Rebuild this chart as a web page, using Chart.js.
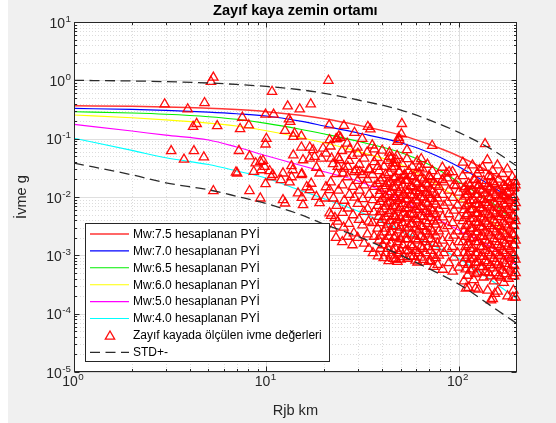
<!DOCTYPE html>
<html>
<head>
<meta charset="utf-8">
<script src="https://cdn.jsdelivr.net/npm/chart.js@4.4.1/dist/chart.umd.min.js"></script>
<style>
  html, body { margin: 0; padding: 0; background: #f0f0f0; }
  #wrap { width: 556px; height: 423px; position: relative; }
</style>
</head>
<body>
<div id="wrap"><canvas id="chart"></canvas></div>
<script>
// ---- Data ---------------------------------------------------------------
// Distances (Rjb, km) at which the predicted PGA curves are tabulated
const distKm  = [1, 2, 3, 5, 7, 10, 15, 20, 30, 50, 70, 100, 150, 200];
// Predicted peak ground acceleration (g) per magnitude
const pyiMw75 = [0.367, 0.358, 0.348, 0.333, 0.315, 0.29, 0.252, 0.22, 0.17, 0.115, 0.08, 0.05, 0.025, 0.013];
const pyiMw70 = [0.33, 0.318, 0.305, 0.285, 0.268, 0.245, 0.2, 0.165, 0.125, 0.085, 0.058, 0.033, 0.015, 0.0079];
const pyiMw65 = [0.29, 0.275, 0.262, 0.238, 0.215, 0.183, 0.145, 0.12, 0.09, 0.058, 0.036, 0.018, 0.0078, 0.0035];
const pyiMw60 = [0.255, 0.228, 0.21, 0.185, 0.165, 0.137, 0.105, 0.085, 0.06, 0.036, 0.0195, 0.0093, 0.0037, 0.0018];
const pyiMw50 = [0.176, 0.135, 0.115, 0.095, 0.072, 0.051, 0.035, 0.027, 0.0188, 0.0089, 0.0049, 0.0027, 0.00134, 0.00066];
const pyiMw40 = [0.102, 0.063, 0.047, 0.036, 0.028, 0.021, 0.013, 0.0093, 0.0057, 0.0027, 0.0016, 0.00088, 0.00036, 0.00018];
// Standard deviation envelope
const stdUpper = [1.0, 0.975, 0.95, 0.9, 0.85, 0.785, 0.69, 0.6, 0.46, 0.31, 0.21, 0.128, 0.064, 0.034];
const stdLower = [0.038, 0.024, 0.0175, 0.0133, 0.0103, 0.0077, 0.005, 0.0034, 0.0021, 0.001, 0.00059, 0.00032, 0.00013, 0.000068];

// Recorded PGA on weak rock sites: [Rjb km, PGA g]
const recordsNear = [
  [5.3,1.12],[5.15,0.95],[2.96,0.39],[3.9,0.32],[4.77,0.41],[9.9,0.26],[7.5,0.23],[4.34,0.18],[4.16,0.16],
  [5.55,0.165],[7.3,0.147],[8.1,0.17],[10,0.1],[9.9,0.08],[3.2,0.0615],[4.2,0.0615],[3.73,0.044],[4.73,0.048],
  [7.2,0.062],[8.17,0.05],[6.95,0.0265],[7.05,0.0255],[8.8,0.038],[9.3,0.0405],[8.6,0.0272],[9.8,0.033],
  [9.9,0.0167],[8.17,0.0127],[5.3,0.0127],[9.3,0.0095]
];
const recordsMid = [
  [21,0.99],[10.7,0.64],[12.9,0.36],[14.9,0.32],[17,0.39],[10.9,0.26],[13.1,0.215],[13.3,0.195],[12.5,0.137],
  [13.8,0.108],[15.2,0.11],[14,0.123],[21.2,0.17],[25.3,0.167],[28.7,0.127],[33.7,0.16],[34.7,0.145],[21.3,0.095],
  [23.8,0.11],[23.3,0.1],[24.3,0.104],[27.1,0.066],[29.9,0.056],[36.4,0.066],[43.6,0.058],[44.5,0.046],[47.3,0.043],
  [38,0.033],[34.4,0.029],[29.3,0.029],[30.5,0.027],[15.2,0.071],[16.8,0.071],[17.5,0.064],[19.7,0.068],[20.4,0.056],
  [17.8,0.049],[16.8,0.046],[19.3,0.046],[21.8,0.046],[24,0.043],[13.8,0.052],[15.5,0.043],[13.5,0.034],[13.7,0.029],
  [18.2,0.032],[18.9,0.0255],[15.2,0.024],[23.5,0.033],[25,0.0255],[26.5,0.033],[9.6,0.042],[9.4,0.029],[10.4,0.028],
  [12.2,0.0255],[10.8,0.024],
  [10.6,0.022],[11.9,0.0196],[13.5,0.022],[15.3,0.025],[13.2,0.018],[16.2,0.0148],[16.8,0.0132],[14.6,0.0116],
  [15.3,0.0097],[15.5,0.0073],[12.2,0.0089],[12.5,0.0078],[18.2,0.0101],[18.9,0.0079],[20.1,0.0095],[21.3,0.0132],
  [20.4,0.0148],[17.1,0.017],[22.7,0.0044],[21.3,0.0053]
];
const recordsFarUpper = [
  [50.6,0.18],[50.3,0.12],[49,0.095],[48.7,0.104],[48,0.089],[53.8,0.064],[72.7,0.076],[63.8,0.045],[62.2,0.032],
  [105,0.039],[137,0.081],[89,0.027],[86.6,0.0255],[128,0.029],[45.5,0.038],[46.5,0.033],[49.1,0.0272],[52.4,0.024],
  [121,0.0196],[181,0.0176],[150,0.0183],[127,0.0155],[110,0.0125],[43.7,0.049],[47,0.038],[70.7,0.022],[82,0.0196],
  [97,0.0155],[114,0.0155],[145,0.0146],[169,0.0102],[185,0.0155],[196,0.0184],[147,0.022],
  [109,0.00027],[122,0.00027],[147,0.00017],[154,0.00022],[191,0.00019]
];
const recordsFarCluster = [
  [21.5,0.074],[22.2,0.037],[21.6,0.018],[22.3,0.0095],[21.7,0.0048],[22.1,0.0029],
  [23.0,0.098],[23.6,0.047],[23.1,0.025],[23.7,0.013],[23.2,0.0071],[23.5,0.0038],[23.0,0.002],
  [24.7,0.062],[25.3,0.031],[24.8,0.016],[25.4,0.0087],[24.9,0.0054],[25.2,0.003],[24.8,0.0017],
  [26.3,0.083],[26.9,0.042],[26.4,0.022],[27.0,0.011],[26.5,0.0064],[26.8,0.0035],[26.4,0.0021],
  [28.0,0.051],[28.6,0.027],[28.1,0.015],[28.7,0.0098],[28.2,0.0049],[28.5,0.0024],[28.0,0.0015],
  [29.7,0.071],[30.4,0.036],[29.8,0.019],[30.5,0.013],[29.9,0.0077],[30.3,0.0041],[29.8,0.002],
  [31.5,0.1],[32.2,0.046],[31.6,0.024],[32.3,0.016],[31.7,0.0093],[32.1,0.0056],[31.6,0.0033],[32.2,0.0016],
  [33.4,0.058],[34.1,0.03],[33.5,0.02],[34.2,0.011],[33.6,0.0063],[34.0,0.0038],[33.5,0.0023],[34.1,0.0013],
  [35.5,0.077],[36.3,0.04],[35.6,0.024],[36.4,0.015],[35.7,0.0089],[36.2,0.0055],[35.6,0.0036],[36.3,0.0021],[35.8,0.0011],
  [37.7,0.047],[38.5,0.028],[37.8,0.017],[38.6,0.011],[37.9,0.0071],[38.4,0.0046],[37.8,0.0029],[38.5,0.0018],[38.0,0.00097],
  [40.0,0.063],[40.9,0.033],[40.1,0.021],[41.0,0.014],[40.2,0.0094],[40.8,0.0062],[40.1,0.0041],[40.9,0.0025],[40.3,0.0015],[40.7,0.0009],
  [42.5,0.042],[43.4,0.026],[42.6,0.017],[43.5,0.011],[42.7,0.0078],[43.3,0.0052],[42.6,0.0034],[43.4,0.0021],[42.8,0.0013],[43.2,0.0008],
  [45.1,0.031],[46.0,0.021],[45.2,0.015],[46.1,0.01],[45.3,0.0071],[45.9,0.0048],[45.2,0.0031],[46.0,0.002],[45.4,0.0012],[45.8,0.00088],
  [47.8,0.051],[48.8,0.027],[47.9,0.018],[48.9,0.012],[48.0,0.0087],[48.7,0.0061],[47.9,0.0041],[48.8,0.0027],[48.1,0.0017],[48.6,0.0011],[48.0,0.00078],
  [50.8,0.037],[51.8,0.023],[50.9,0.016],[51.9,0.011],[51.0,0.0077],[51.7,0.0053],[50.9,0.0036],[51.8,0.0023],[51.1,0.0015],[51.6,0.00094],
  [53.8,0.045],[54.9,0.028],[53.9,0.019],[55.0,0.013],[54.0,0.0092],[54.8,0.0065],[53.9,0.0045],[54.9,0.003],[54.1,0.0019],[54.7,0.0012],[54.0,0.00088],
  [57.3,0.033],[58.4,0.022],[57.4,0.015],[58.5,0.011],[57.5,0.0075],[58.3,0.0052],[57.4,0.0035],[58.4,0.0022],[57.6,0.0014],[58.2,0.00097],
  [60.8,0.041],[62.0,0.026],[60.9,0.017],[62.1,0.012],[61.0,0.0085],[61.9,0.006],[60.9,0.004],[62.0,0.0027],[61.1,0.0018],[61.8,0.0011],[61.0,0.00076],
  [64.7,0.03],[65.8,0.02],[64.8,0.014],[65.9,0.0098],[64.9,0.0069],[65.7,0.0046],[64.8,0.0031],[65.8,0.0019],[65.0,0.0013],[65.6,0.00084],
  [68.7,0.036],[70.0,0.023],[68.8,0.016],[70.1,0.011],[68.9,0.0077],[69.9,0.0052],[68.8,0.0035],[70.0,0.0023],[69.0,0.0014],[69.8,0.00078],
  [72.9,0.028],[74.2,0.018],[73.0,0.012],[74.3,0.0084],[73.1,0.0057],[74.1,0.0038],[73.0,0.0025],[74.2,0.0016],[73.2,0.001],[74.0,0.00064],
  [77.4,0.023],[78.8,0.015],[77.5,0.0095],[78.9,0.0062],[77.6,0.004],[78.7,0.0026],[77.5,0.0016],[78.8,0.001],[77.7,0.00069],
  [82.2,0.032],[83.7,0.018],[82.3,0.011],[83.8,0.0071],[82.4,0.0045],[83.6,0.0029],[82.3,0.0018],[83.7,0.0011],[82.5,0.00057],
  [87.3,0.021],[88.8,0.013],[87.4,0.0081],[88.9,0.0051],[87.5,0.0032],[88.7,0.002],[87.4,0.0013],[88.8,0.00074],
  [92.7,0.027],[94.3,0.016],[92.8,0.0097],[94.4,0.0059],[92.9,0.0036],[94.2,0.0022],[92.8,0.0014],[94.3,0.00092],[93.0,0.00053],
  [98.4,0.019],[100,0.012],[98.5,0.0072],[100.2,0.0044],[98.6,0.0026],[99.9,0.0017],[98.5,0.0011],[100.1,0.00062],
  [104.8,0.023],[106.5,0.014],[104.9,0.0091],[106.6,0.006],[105.0,0.0039],[106.4,0.0026],[104.9,0.0017],[106.5,0.0011],[105.1,0.00074],[106.3,0.00036],
  [110.8,0.029],[112.5,0.017],[110.9,0.011],[112.6,0.0075],[111.0,0.0051],[112.4,0.0034],[110.9,0.0023],[112.5,0.0015],[111.1,0.001],[112.3,0.00069],[111.0,0.00045],[112.4,0.00028],
  [117.8,0.035],[119.6,0.02],[117.9,0.013],[119.7,0.0089],[118.0,0.0062],[119.5,0.0043],[117.9,0.0029],[119.6,0.002],[118.1,0.0013],[119.4,0.00089],[118.0,0.00058],[119.5,0.00038],
  [124.8,0.025],[126.6,0.016],[124.9,0.011],[126.7,0.0074],[125.0,0.0052],[126.5,0.0036],[124.9,0.0025],[126.6,0.0017],[125.1,0.0011],[126.4,0.00076],[125.0,0.00051],[126.5,0.00026],
  [132.8,0.032],[134.6,0.019],[132.9,0.013],[134.7,0.0089],[133.0,0.0062],[134.5,0.0043],[132.9,0.003],[134.6,0.0021],[133.1,0.0014],[134.4,0.00095],[133.0,0.00064],[134.5,0.00042],
  [140.8,0.043],[143.0,0.023],[140.9,0.015],[143.1,0.01],[141.0,0.0072],[142.9,0.005],[140.9,0.0035],[143.0,0.0024],[141.1,0.0016],[142.8,0.0011],[141.0,0.00075],[142.9,0.0005],[141.2,0.00025],
  [149.8,0.028],[152.1,0.017],[149.9,0.012],[152.2,0.0081],[150.0,0.0057],[152.0,0.004],[149.9,0.0028],[152.1,0.0019],[150.1,0.0013],[151.9,0.00088],[150.0,0.0006],[152.0,0.00036],[150.2,0.00018],
  [158.8,0.035],[161.2,0.02],[158.9,0.013],[161.3,0.0094],[159.0,0.0066],[161.1,0.0046],[158.9,0.0032],[161.2,0.0022],[159.1,0.0015],[161.0,0.001],[159.0,0.00069],[161.1,0.00045],[159.2,0.00024],
  [168.8,0.025],[171.3,0.016],[168.9,0.011],[171.4,0.0077],[169.0,0.0054],[171.2,0.0038],[168.9,0.0026],[171.3,0.0018],[169.1,0.0012],[171.1,0.00082],[169.0,0.00055],[171.2,0.00034],
  [178.8,0.03],[181.4,0.018],[178.9,0.012],[181.5,0.0087],[179.0,0.0061],[181.3,0.0043],[178.9,0.003],[181.4,0.002],[179.1,0.0014],[181.2,0.00093],[179.0,0.00062],[181.3,0.0004],[179.2,0.0002],
  [189.8,0.022],[192.3,0.014],[189.9,0.0095],[192.4,0.0067],[190.0,0.0047],[192.2,0.0033],[189.9,0.0023],[192.3,0.0015],[190.1,0.001],[192.1,0.00069],[190.0,0.00044],[192.2,0.00025],
  [197,0.016],[197.5,0.0079],[196.8,0.0039],[197.3,0.0018],[196.9,0.00085],[197.4,0.0005],[197,0.00019]
];
// Densest record groups (around 40-80 km and 105-200 km)
const recordsCoreNear = [
  [39.1,0.019],[39.1,0.0128],[39.1,0.0083],[39.1,0.0056],[39.1,0.0036],[39.1,0.0022],[39.1,0.0013],
  [41.6,0.024],[41.6,0.0155],[41.6,0.0102],[41.6,0.0069],[41.6,0.0045],[41.6,0.0029],[41.6,0.0018],[41.6,0.0011],
  [44.2,0.018],[44.2,0.0122],[44.2,0.0084],[44.2,0.0058],[44.2,0.0039],[44.2,0.0025],[44.2,0.0016],[44.2,0.001],
  [46.9,0.022],[46.9,0.0145],[46.9,0.0098],[46.9,0.0067],[46.9,0.0046],[46.9,0.0032],[46.9,0.0021],[46.9,0.0013],[46.9,0.00085],
  [49.8,0.02],[49.8,0.0135],[49.8,0.0094],[49.8,0.0065],[49.8,0.0044],[49.8,0.003],[49.8,0.0019],[49.8,0.0012],[49.8,0.00085],
  [52.8,0.019],[52.8,0.0131],[52.8,0.0091],[52.8,0.0063],[52.8,0.0043],[52.8,0.0029],[52.8,0.0019],[52.8,0.0012],
  [56.2,0.023],[56.2,0.0155],[56.2,0.0107],[56.2,0.0073],[56.2,0.005],[56.2,0.0034],[56.2,0.0023],[56.2,0.0015],[56.2,0.00095],
  [59.6,0.018],[59.6,0.0127],[59.6,0.0088],[59.6,0.0061],[59.6,0.0042],[59.6,0.0029],[59.6,0.0019],[59.6,0.0012],[59.6,0.00082],
  [63.4,0.021],[63.4,0.0143],[63.4,0.0099],[63.4,0.0068],[63.4,0.0047],[63.4,0.0032],[63.4,0.0021],[63.4,0.0014],[63.4,0.00092],
  [67.3,0.017],[67.3,0.0118],[67.3,0.0081],[67.3,0.0056],[67.3,0.0039],[67.3,0.0026],[67.3,0.0017],[67.3,0.0011],
  [71.5,0.02],[71.5,0.0136],[71.5,0.0093],[71.5,0.0064],[71.5,0.0044],[71.5,0.0029],[71.5,0.0019],[71.5,0.0012],[71.5,0.0008],
  [75.9,0.016],[75.9,0.011],[75.9,0.0075],[75.9,0.0051],[75.9,0.0034],[75.9,0.0022],[75.9,0.0014],[75.9,0.0009]
];
const recordsCoreFar = [
  [108.5,0.015],[108.5,0.0102],[108.5,0.007],[108.5,0.0048],[108.5,0.0032],[108.5,0.0021],[108.5,0.0014],[108.5,0.0009],[108.5,0.00058],
  [115,0.0125],[115,0.0087],[115,0.006],[115,0.0042],[115,0.0029],[115,0.0019],[115,0.0013],[115,0.00085],[115,0.00055],
  [122,0.016],[122,0.011],[122,0.0076],[122,0.0053],[122,0.0037],[122,0.0025],[122,0.0017],[122,0.0011],[122,0.00074],[122,0.00048],
  [129.5,0.0135],[129.5,0.0093],[129.5,0.0065],[129.5,0.0045],[129.5,0.0031],[129.5,0.0021],[129.5,0.0014],[129.5,0.00095],[129.5,0.00063],
  [137,0.017],[137,0.0115],[137,0.008],[137,0.0055],[137,0.0038],[137,0.0026],[137,0.0018],[137,0.0012],[137,0.0008],[137,0.00052],
  [146,0.014],[146,0.0096],[146,0.0067],[146,0.0047],[146,0.0032],[146,0.0022],[146,0.0015],[146,0.001],[146,0.00068],[146,0.00044],
  [155,0.016],[155,0.0108],[155,0.0075],[155,0.0052],[155,0.0036],[155,0.0025],[155,0.0017],[155,0.0011],[155,0.00076],[155,0.0005],
  [165,0.0135],[165,0.0093],[165,0.0064],[165,0.0045],[165,0.0031],[165,0.0021],[165,0.0014],[165,0.00097],[165,0.00065],[165,0.00042],
  [174,0.015],[174,0.0104],[174,0.0072],[174,0.005],[174,0.0034],[174,0.0023],[174,0.0016],[174,0.0011],[174,0.00072],[174,0.00048],
  [185,0.0125],[185,0.0087],[185,0.006],[185,0.0041],[185,0.0028],[185,0.0019],[185,0.0013],[185,0.00088],[185,0.00058],
  [194,0.0145],[194,0.01],[194,0.0069],[194,0.0047],[194,0.0032],[194,0.0022],[194,0.0015],[194,0.001],[194,0.00066],[194,0.00044]
];

// Axis ticks and text
const xDecades = [1, 10, 100];
const xTickExponents = ['0', '1', '2'];
const yDecades = [1e-5, 1e-4, 1e-3, 1e-2, 1e-1, 1, 10];
const yTickExponents = ['-5', '-4', '-3', '-2', '-1', '0', '1'];
const chartTitle = 'Zayıf kaya zemin ortamı';
const xAxisTitle = 'Rjb km';
const yAxisTitle = 'İvme g';
const seriesLabels = [
  'Mw:7.5 hesaplanan PYİ', 'Mw:7.0 hesaplanan PYİ', 'Mw:6.5 hesaplanan PYİ',
  'Mw:6.0 hesaplanan PYİ', 'Mw:5.0 hesaplanan PYİ', 'Mw:4.0 hesaplanan PYİ',
  'Zayıf kayada ölçülen ivme değerleri', 'STD+-'
];

// ---- Styling ------------------------------------------------------------
const FONT = '"Liberation Sans", Arial, Helvetica, sans-serif';
const AXIS_COLOR = '#262626';
const DASH = [10, 5.5];

const toXY = (xs, ys) => xs.map((x, i) => ({ x: x, y: ys[i] }));
const pairsToXY = (pairs) => pairs.map(p => ({ x: p[0], y: p[1] }));

const curveDefs = [
  { values: pyiMw75, color: '#ff3535', width: 1.5 },
  { values: pyiMw70, color: '#0000ff', width: 1.1 },
  { values: pyiMw65, color: '#00ee00', width: 1.1 },
  { values: pyiMw60, color: '#ffff00', width: 1.1 },
  { values: pyiMw50, color: '#ff00ff', width: 1.1 },
  { values: pyiMw40, color: '#00ffff', width: 1.1 }
];

const datasets = curveDefs.map((c, i) => ({
  label: seriesLabels[i],
  data: toXY(distKm, c.values),
  showLine: true,
  borderColor: c.color,
  borderWidth: c.width,
  pointRadius: 0,
  cubicInterpolationMode: 'monotone',
  fill: false,
  order: 3
}));

const MARKER_COLOR = 'rgba(255,0,0,0.95)';
datasets.push({
  label: seriesLabels[6],
  data: pairsToXY(recordsNear.concat(recordsMid, recordsFarUpper, recordsFarCluster, recordsCoreNear, recordsCoreFar)),
  showLine: false,
  pointStyle: 'triangle',
  pointRadius: 5.4,
  pointBorderWidth: 1.3,
  pointBorderColor: MARKER_COLOR,
  pointBackgroundColor: 'rgba(0,0,0,0)',
  clip: false,
  order: 2
});

[stdUpper, stdLower].forEach(vals => datasets.push({
  label: seriesLabels[7],
  data: toXY(distKm, vals),
  showLine: true,
  borderColor: '#2b2b2b',
  borderWidth: 1.3,
  borderDash: DASH,
  pointRadius: 0,
  cubicInterpolationMode: 'monotone',
  fill: false,
  order: 1
}));

// ---- Axes, grid, titles and legend drawn around the chart area -----------
function drawPower(ctx, x, y, exp, align) {
  ctx.font = '14px ' + FONT;
  const wb = ctx.measureText('10').width;
  ctx.font = '9.8px ' + FONT;
  const we = ctx.measureText(exp).width;
  const total = wb + we + 0.5;
  const x0 = align === 'right' ? x - total : x - total / 2;
  ctx.textAlign = 'left';
  ctx.textBaseline = 'alphabetic';
  ctx.font = '14px ' + FONT;
  ctx.fillText('10', x0, y);
  ctx.font = '9.8px ' + FONT;
  ctx.fillText(exp, x0 + wb + 0.5, y - 6);
}

function minorValues(decades, maxVal) {
  const out = [];
  decades.forEach(d => { for (let k = 2; k <= 9; k++) { const v = k * d; if (v < maxVal) out.push(v); } });
  return out;
}

const matlabAxes = {
  id: 'matlabAxes',
  beforeDraw(chart) {
    const { ctx, chartArea: a, width, height } = chart;
    ctx.save();
    ctx.fillStyle = '#f0f0f0';
    ctx.fillRect(0, 0, width, height);
    ctx.fillStyle = '#ffffff';
    ctx.fillRect(0, 0, 8, height);
    ctx.fillRect(a.left, a.top, a.right - a.left, a.bottom - a.top);
    ctx.restore();
  },
  beforeDatasetsDraw(chart) {
    const { ctx, chartArea: a, scales } = chart;
    const xs = scales.x, ys = scales.y;
    ctx.save();
    ctx.lineWidth = 1;
    // minor grid (dotted)
    ctx.strokeStyle = 'rgba(38,38,38,0.16)';
    ctx.setLineDash([1, 2]);
    minorValues(xDecades, 200).forEach(v => {
      const p = Math.round(xs.getPixelForValue(v)) + 0.5;
      ctx.beginPath(); ctx.moveTo(p, a.top); ctx.lineTo(p, a.bottom); ctx.stroke();
    });
    minorValues(yDecades.slice(0, -1), 10).forEach(v => {
      const p = Math.round(ys.getPixelForValue(v)) + 0.5;
      ctx.beginPath(); ctx.moveTo(a.left, p); ctx.lineTo(a.right, p); ctx.stroke();
    });
    // major grid (solid)
    ctx.setLineDash([]);
    ctx.strokeStyle = 'rgba(38,38,38,0.15)';
    xDecades.forEach(v => {
      const p = Math.round(xs.getPixelForValue(v)) + 0.5;
      ctx.beginPath(); ctx.moveTo(p, a.top); ctx.lineTo(p, a.bottom); ctx.stroke();
    });
    yDecades.forEach(v => {
      const p = Math.round(ys.getPixelForValue(v)) + 0.5;
      ctx.beginPath(); ctx.moveTo(a.left, p); ctx.lineTo(a.right, p); ctx.stroke();
    });
    ctx.restore();
  },
  afterDatasetsDraw(chart) {
    const { ctx, chartArea: a, scales } = chart;
    const xs = scales.x, ys = scales.y;
    ctx.save();
    // box
    ctx.strokeStyle = AXIS_COLOR;
    ctx.lineWidth = 1;
    ctx.setLineDash([]);
    const L = Math.round(a.left) + 0.5, R = Math.round(a.right) - 0.5;
    const T = Math.round(a.top) + 0.5, B = Math.round(a.bottom) - 0.5;
    ctx.strokeRect(L, T, R - L, B - T);
    // tick marks on all four sides, pointing inward
    const tick = (v, len, axis) => {
      if (axis === 'x') {
        const p = Math.round(xs.getPixelForValue(v)) + 0.5;
        ctx.beginPath(); ctx.moveTo(p, B); ctx.lineTo(p, B - len); ctx.moveTo(p, T); ctx.lineTo(p, T + len); ctx.stroke();
      } else {
        const p = Math.round(ys.getPixelForValue(v)) + 0.5;
        ctx.beginPath(); ctx.moveTo(L, p); ctx.lineTo(L + len, p); ctx.moveTo(R, p); ctx.lineTo(R - len, p); ctx.stroke();
      }
    };
    xDecades.forEach(v => tick(v, 5, 'x'));
    minorValues(xDecades, 200).forEach(v => tick(v, 2.5, 'x'));
    yDecades.forEach(v => tick(v, 5, 'y'));
    minorValues(yDecades.slice(0, -1), 10).forEach(v => tick(v, 2.5, 'y'));

    // tick labels
    ctx.fillStyle = AXIS_COLOR;
    yDecades.forEach((v, i) => drawPower(ctx, 71, ys.getPixelForValue(v) + 5.5, yTickExponents[i], 'right'));
    xDecades.forEach((v, i) => drawPower(ctx, xs.getPixelForValue(v) - 1, 385.5, xTickExponents[i], 'center'));

    // titles
    const cx = (a.left + a.right) / 2;
    ctx.textAlign = 'center';
    ctx.textBaseline = 'alphabetic';
    ctx.font = 'bold 14.6px ' + FONT;
    ctx.fillStyle = '#000000';
    ctx.fillText(chartTitle, cx, 15);
    ctx.font = '14.6px ' + FONT;
    ctx.fillStyle = AXIS_COLOR;
    ctx.fillText(xAxisTitle, cx, 414.5);
    ctx.save();
    ctx.translate(26, (a.top + a.bottom) / 2);
    ctx.rotate(-Math.PI / 2);
    ctx.fillText(yAxisTitle, 0, 0);
    ctx.restore();

    // legend
    const lx = 85.5, ly = 223.5, lw = 244, lh = 138;
    ctx.fillStyle = '#ffffff';
    ctx.fillRect(lx, ly, lw, lh);
    ctx.strokeStyle = AXIS_COLOR;
    ctx.strokeRect(lx, ly, lw, lh);
    ctx.font = '12px ' + FONT;
    ctx.textAlign = 'left';
    ctx.textBaseline = 'middle';
    const ds = chart.data.datasets;
    for (let i = 0; i < 8; i++) {
      const y = 234 + 16.9 * i;
      const d = ds[i];
      if (i < 6 || i === 7) {
        ctx.strokeStyle = d.borderColor;
        ctx.lineWidth = d.borderWidth;
        ctx.setLineDash(i === 7 ? DASH : []);
        ctx.beginPath(); ctx.moveTo(90, y); ctx.lineTo(129, y); ctx.stroke();
        ctx.setLineDash([]);
      } else {
        const r = d.pointRadius;
        ctx.strokeStyle = d.pointBorderColor;
        ctx.lineWidth = d.pointBorderWidth;
        ctx.beginPath();
        for (let k = 0; k < 3; k++) {
          const ang = k * 2 * Math.PI / 3;
          const px = 110 + Math.sin(ang) * r, py = y - Math.cos(ang) * r + 1;
          if (k === 0) ctx.moveTo(px, py); else ctx.lineTo(px, py);
        }
        ctx.closePath(); ctx.stroke();
      }
      ctx.fillStyle = '#000000';
      ctx.fillText(seriesLabels[i], 133, y + 0.5);
    }
    ctx.restore();
  }
};

new Chart(document.getElementById('chart'), {
  type: 'scatter',
  data: { datasets: datasets },
  options: {
    responsive: true,
    maintainAspectRatio: false,
    devicePixelRatio: 1,
    animation: false,
    events: [],
    layout: { padding: { top: 22, right: 39.3, bottom: 0, left: 0 } },
    plugins: { legend: { display: false }, title: { display: false }, tooltip: { enabled: false } },
    scales: {
      x: {
        type: 'logarithmic', min: 1, max: 200,
        grid: { display: false }, border: { display: false }, ticks: { display: false },
        afterFit(s) { s.height = 51; }
      },
      y: {
        type: 'logarithmic', min: 1e-5, max: 10,
        grid: { display: false }, border: { display: false }, ticks: { display: false },
        afterFit(s) { s.width = 74; }
      }
    }
  },
  plugins: [matlabAxes]
});
</script>
</body>
</html>
